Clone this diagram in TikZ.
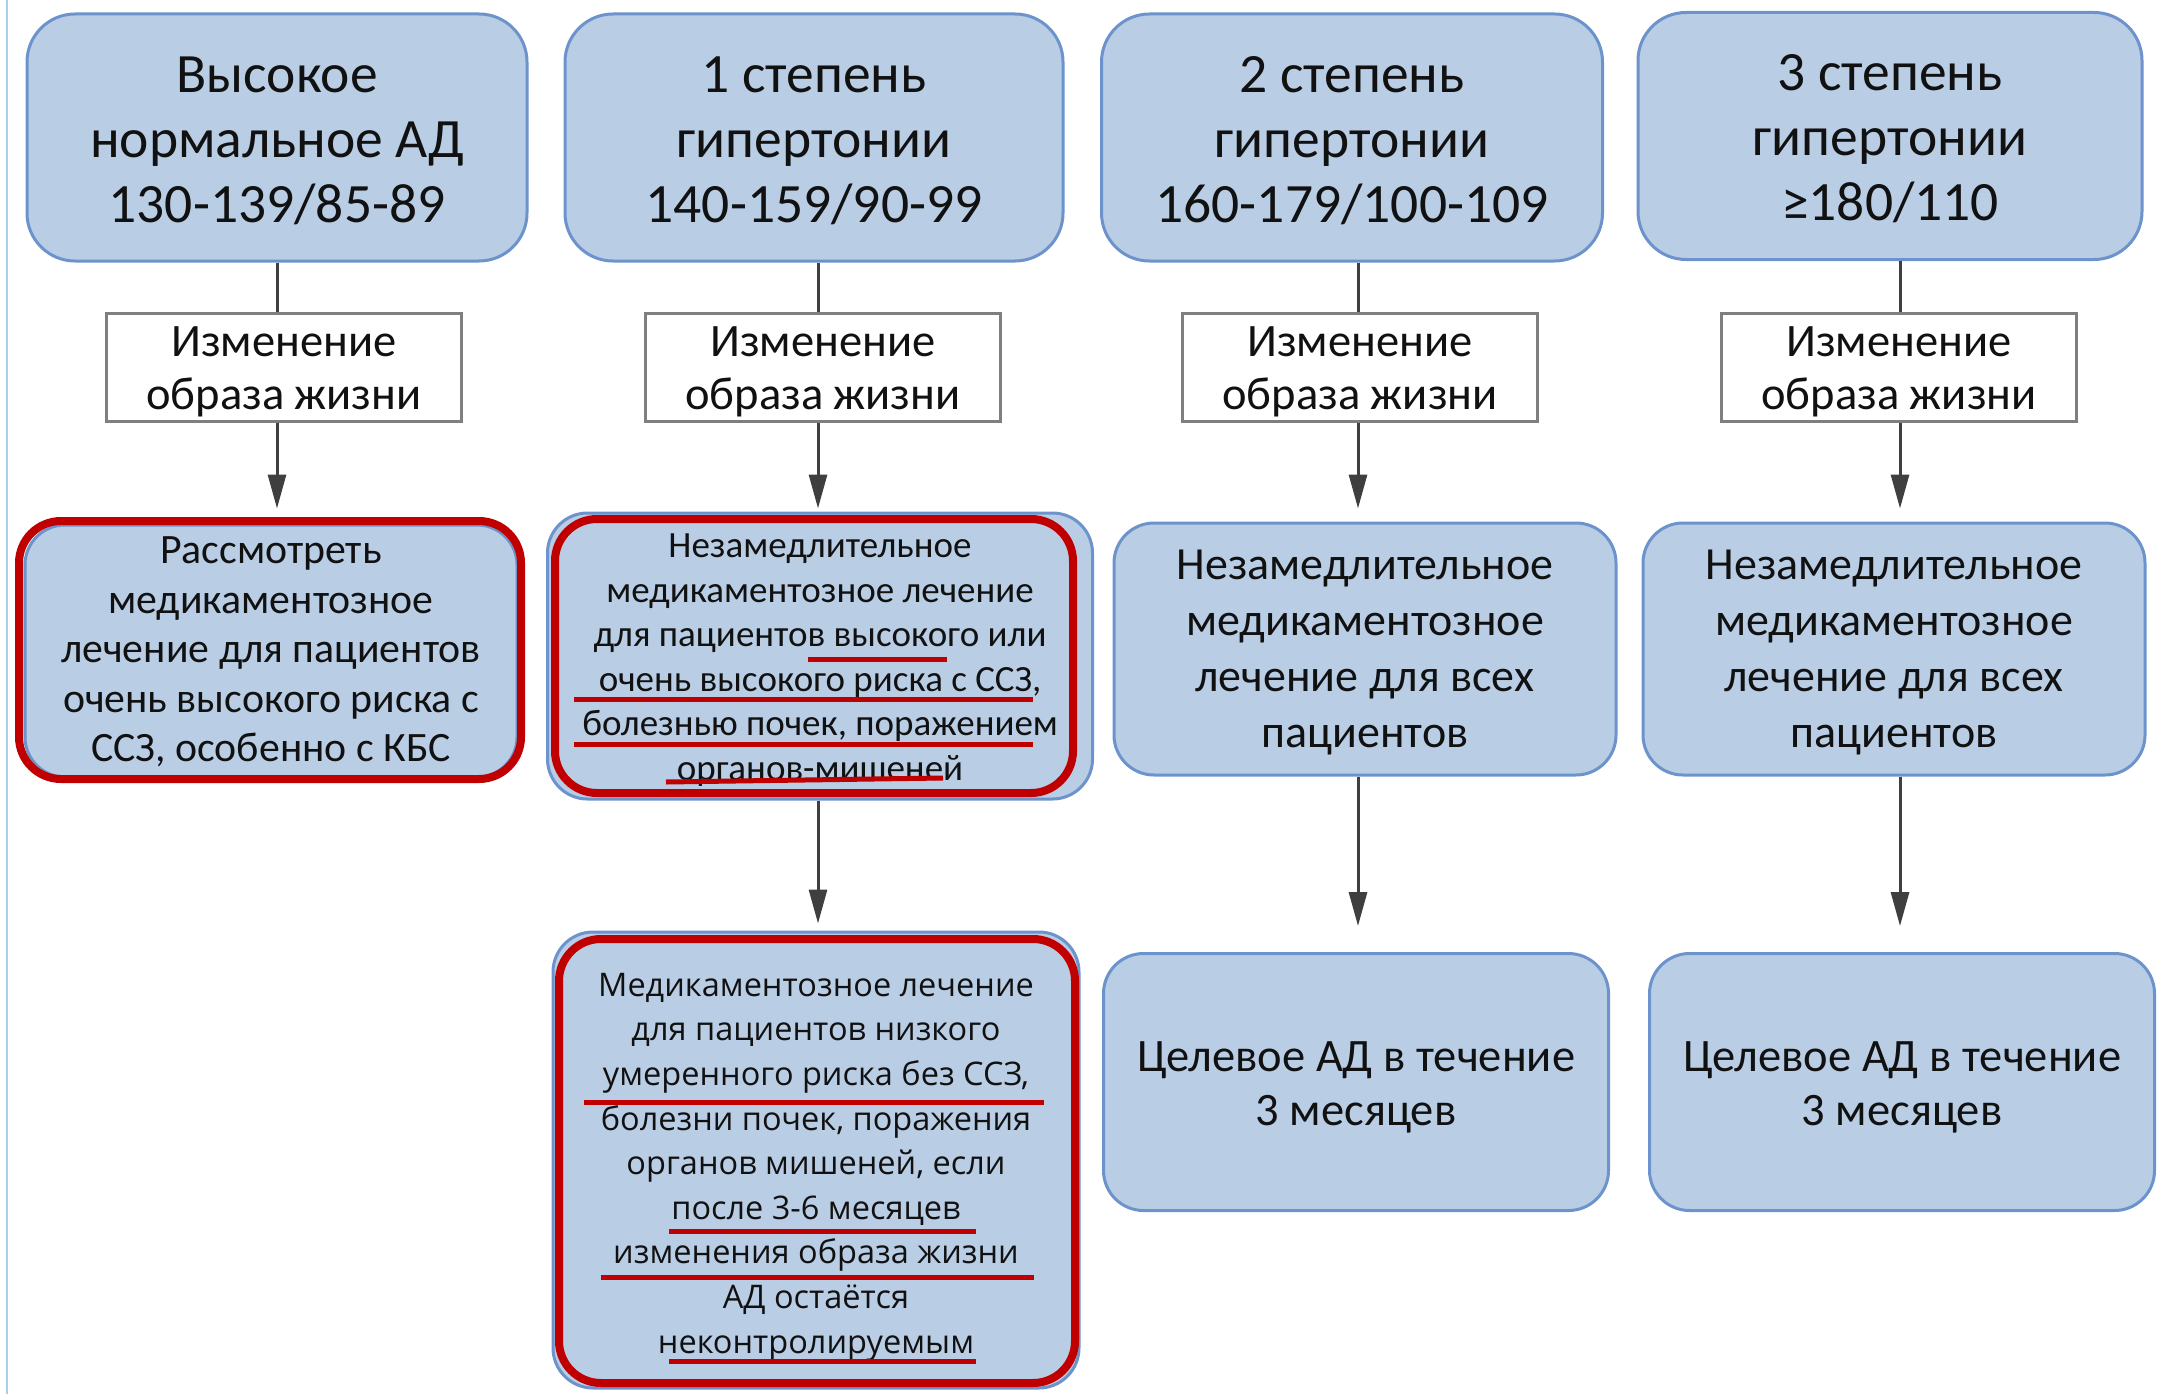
\documentclass[tikz,border=0pt]{standalone}
\usepackage{fontspec}
\setmainfont{Carlito}
\newfontfamily\osans{Open Sans}
\usetikzlibrary{arrows.meta}
\definecolor{boxfill}{HTML}{B9CDE5}
\definecolor{boxline}{HTML}{6C93CC}
\definecolor{redline}{HTML}{C00000}
\definecolor{conn}{HTML}{3F3F3F}
\definecolor{txt}{HTML}{111111}
\definecolor{edgeblue}{HTML}{A9CFEA}
\definecolor{wline}{HTML}{7F7F7F}
\begin{document}
\begin{tikzpicture}[x=1pt,y=-1pt,
 bluebox/.style={draw=boxline, line width=3pt, fill=boxfill, rounded corners=40pt, inner sep=0pt},
 topbox/.style={bluebox, rounded corners=48pt, minimum height=247pt},
 whitebox/.style={draw=wline, line width=3pt, fill=white, minimum width=355pt, minimum height=108pt, inner sep=0pt},
 txtnode/.style={align=center, text=txt, inner sep=0pt},
 toptext/.style={txtnode, font=\fontsize{55.5}{65}\selectfont},
 wtext/.style={txtnode, font=\fontsize{46.5}{53}\selectfont},
 redframe/.style={draw=redline, line width=8pt, rounded corners=42pt},
 redul/.style={draw=redline, line width=5pt},
 link/.style={draw=conn, line width=3pt},
 arrowlink/.style={link, -{Triangle[length=34pt,width=18pt]}},
]
\useasboundingbox (0,0) rectangle (2157,1394);
\fill[white] (0,0) rectangle (2157,1394);
\draw[edgeblue, line width=2.5pt] (7,0) -- (7,1394);

% column axes
\coordinate (c1) at (277,0);
\coordinate (c2) at (818,0);
\coordinate (c3) at (1358,0);
\coordinate (c4) at (1900,0);

% top row
\node[topbox, minimum width=500pt] (t1) at (277,137.5) {};
\node[topbox, minimum width=498pt] (t2) at (814,137.5) {};
\node[topbox, minimum width=501pt] (t3) at (1352,137.5) {};
\node[topbox, minimum width=504pt] (t4) at (1890,136) {};
\node[toptext] (t1x) at ([yshift=-3pt]t1.center) {Высокое\\нормальное АД\\130-139/85-89};
\node[toptext] (t2x) at ([yshift=-3pt]t2.center) {1 степень\\гипертонии\\140-159/90-99};
\node[toptext] (t3x) at ([yshift=-3pt]t3.center) {2 степень\\гипертонии\\160-179/100-109};
\node[toptext] (t4x) at ([yshift=-3pt]t4.center) {3 степень\\гипертонии\\≥180/110};

% white boxes
\node[whitebox] (w1) at (284,367) {};
\node[whitebox] (w2) at (823,367) {};
\node[whitebox] (w3) at (1360,367) {};
\node[whitebox] (w4) at (1899,367) {};
\node[wtext] (w1x) at ([yshift=-5pt]w1.center) {Изменение\\образа жизни};
\node[wtext] (w2x) at ([yshift=-5pt]w2.center) {Изменение\\образа жизни};
\node[wtext] (w3x) at ([yshift=-5pt]w3.center) {Изменение\\образа жизни};
\node[wtext] (w4x) at ([yshift=-5pt]w4.center) {Изменение\\образа жизни};

% third row
\node[bluebox, minimum width=492pt, minimum height=252pt] (r1) at (271,651) {};
\node[bluebox, minimum width=545pt, minimum height=286pt] (r2) at (820,656) {};
\node[bluebox, minimum width=502pt, minimum height=252pt] (r3) at (1365,649) {};
\node[bluebox, minimum width=502pt, minimum height=252pt] (r4) at (1894,649) {};
\node[txtnode, font=\fontsize{41.8}{49.5}\selectfont] (r1x) at ([yshift=-1pt]r1.center) {Рассмотреть\\медикаментозное\\лечение для пациентов\\очень высокого риска с\\ССЗ, особенно с КБС};
\node[txtnode, font=\fontsize{37}{44.5}\selectfont] (r2x) at ([yshift=-4pt]r2.center) {Незамедлительное\\медикаментозное лечение\\для пациентов высокого или\\очень высокого риска с ССЗ,\\болезнью почек, поражением\\органов-мишеней};
\node[txtnode, font=\fontsize{46}{56}\selectfont] (r3x) at ([yshift=-4pt]r3.center) {Незамедлительное\\медикаментозное\\лечение для всех\\пациентов};
\node[txtnode, font=\fontsize{46}{56}\selectfont] (r4x) at ([yshift=-4pt]r4.center) {Незамедлительное\\медикаментозное\\лечение для всех\\пациентов};

% fourth row
\node[bluebox, minimum width=526pt, minimum height=456pt] (f2) at (816,1160) {};
\node[bluebox, minimum width=505pt, minimum height=257pt] (f3) at (1356,1082) {};
\node[bluebox, minimum width=505pt, minimum height=257pt] (f4) at (1902,1082) {};
\node[txtnode, font=\osans\fontsize{32.5}{44.6}\selectfont] (f2x) at ([yshift=-7pt]f2.center) {Медикаментозное лечение\\для пациентов низкого\\умеренного риска без ССЗ,\\болезни почек, поражения\\органов мишеней, если\\после 3-6 месяцев\\изменения образа жизни\\АД остаётся\\неконтролируемым};
\node[txtnode, font=\fontsize{46.5}{54}\selectfont] (f3x) at ([yshift=-5pt]f3.center) {Целевое АД в течение\\3 месяцев};
\node[txtnode, font=\fontsize{46.5}{54}\selectfont] (f4x) at ([yshift=-5pt]f4.center) {Целевое АД в течение\\3 месяцев};

% connectors top -> white
\draw[link] (t1.south -| c1) -- (w1.north -| c1);
\draw[link] (t2.south -| c2) -- (w2.north -| c2);
\draw[link] (t3.south -| c3) -- (w3.north -| c3);
\draw[link] (t4.south -| c4) -- (w4.north -| c4);

% white -> third row
\draw[arrowlink, shorten >=15pt] (w1.south -| c1) -- (r1.north -| c1);
\draw[arrowlink, shorten >=3pt] (w2.south -| c2) -- (r2.north -| c2);
\draw[arrowlink, shorten >=13pt] (w3.south -| c3) -- (r3.north -| c3);
\draw[arrowlink, shorten >=13pt] (w4.south -| c4) -- (r4.north -| c4);

% third -> fourth row
\draw[arrowlink, shorten >=7pt] (r2.south -| c2) -- (f2.north -| c2);
\draw[arrowlink, shorten >=26pt] (r3.south -| c3) -- (f3.north -| c3);
\draw[arrowlink, shorten >=26pt] (r4.south -| c4) -- (f4.north -| c4);

% red frames
\draw[redframe] (19,521) rectangle (521,779);
\draw[redframe] (555,519) rectangle (1073,793);
\draw[redframe] (559,939) rectangle (1075,1383);

% red underlines
\draw[redul] (808,659) -- (947,659);
\draw[redul] (574,699) -- (1033,699);
\draw[redul] (574,744) -- (1033,744);
\draw[redul] (666,782) -- (943,778);
\draw[redul] (584,1102) -- (1044,1102);
\draw[redul] (669,1231) -- (976,1231);
\draw[redul] (601,1277) -- (1034,1277);
\draw[redul] (669,1361) -- (976,1361);
\end{tikzpicture}
\end{document}
